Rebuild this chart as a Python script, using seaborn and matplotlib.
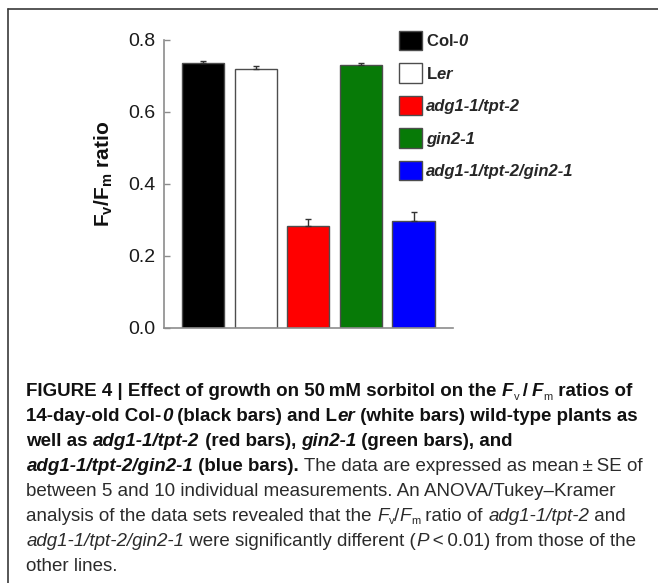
import matplotlib
matplotlib.use("Agg")
import matplotlib.pyplot as plt
from matplotlib.patches import Patch
from matplotlib.lines import Line2D
from matplotlib.font_manager import FontProperties, fontManager
import numpy as np
import pandas as pd
import seaborn as sns

# ---- data -------------------------------------------------------------
genotypes = ["Col-0", "Ler", "adg1-1/tpt-2", "gin2-1", "adg1-1/tpt-2/gin2-1"]
fv_fm_ratio = [0.737, 0.720, 0.283, 0.730, 0.297]
fv_fm_se = [0.006, 0.007, 0.019, 0.006, 0.024]
bar_colors = ["#000000", "#ffffff", "#ff0000", "#077a07", "#0000ff"]
legend_labels = [r"Col-$\mathsf{0}$", r"L$\mathsf{er}$",
                 "adg1-1/tpt-2", "gin2-1", "adg1-1/tpt-2/gin2-1"]
y_ticks = [0.0, 0.2, 0.4, 0.6, 0.8]

# ---- style ------------------------------------------------------------
sns.set_style("ticks")
plt.rcParams["font.family"] = ["Liberation Sans", "DejaVu Sans"]
plt.rcParams["mathtext.fontset"] = "custom"
plt.rcParams["mathtext.bf"] = "Liberation Sans:bold"
plt.rcParams["mathtext.rm"] = "Liberation Sans:bold"
plt.rcParams["mathtext.it"] = "Liberation Sans:italic:bold"
plt.rcParams["mathtext.sf"] = "Liberation Sans:italic:bold"

W, H = 658, 583
fig = plt.figure(figsize=(W / 100, H / 100), dpi=100)
fig.patch.set_facecolor("white")

# axes box in pixel terms: x 164..453, y 40..328
ax = fig.add_axes([164 / W, 1 - 328 / H, (453 - 164) / W, (328 - 40) / H])
ax.set_facecolor("white")

df = pd.DataFrame({"genotype": genotypes, "ratio": fv_fm_ratio})
sns.barplot(data=df, x="genotype", y="ratio", hue="genotype",
            order=genotypes, hue_order=genotypes, palette=bar_colors,
            saturation=1, width=0.8, edgecolor="#4d4d4d", linewidth=1.0,
            errorbar=None, legend=False, ax=ax)

xpos = np.arange(len(genotypes))
ax.errorbar(xpos, fv_fm_ratio, yerr=[np.zeros(len(fv_fm_se)), fv_fm_se],
            fmt="none", ecolor="#333333", elinewidth=1.0, capsize=2.5,
            capthick=1.0, zorder=3)

ax.set_xlim(-0.74, 4.75)
ax.set_ylim(0, 0.8)
ax.set_yticks(y_ticks)
ax.set_yticklabels([f"{v:.1f}" for v in y_ticks])
ax.set_xticks([])
ax.set_xlabel("")
sns.despine(ax=ax)
for side in ("left", "bottom"):
    ax.spines[side].set_color("#8c8c8c")
    ax.spines[side].set_linewidth(1.2)
ax.tick_params(axis="y", direction="in", length=4.5, width=1.0,
               color="#8c8c8c", labelsize=14, pad=6, labelcolor="#1a1a1a")

ax.set_ylabel(r"$\mathbf{F_v/F_m}$ ratio", fontsize=15, fontweight="bold",
              va="center", color="#111111")
ax.yaxis.set_label_coords((104 - 164) / 289, (328 - 173.5) / 288)

handles = [Patch(facecolor=c, edgecolor="#4d4d4d", linewidth=1.0)
           for c in bar_colors]
leg = ax.legend(handles, legend_labels, loc="upper left",
                bbox_to_anchor=(399 / W, 1 - 31 / H),
                bbox_transform=fig.transFigure, frameon=False,
                prop=dict(family="Liberation Sans", weight="bold", size=12),
                handlelength=1.38, handleheight=1.42, handletextpad=0.25,
                labelspacing=0.78, borderpad=0, borderaxespad=0)
for t in leg.get_texts()[2:]:
    t.set_style("italic")

# ---- frame lines ------------------------------------------------------
fig.add_artist(Line2D([8 / W, 8 / W], [0, 1 - 9 / H], transform=fig.transFigure,
                      color="#3a3a3a", lw=1.2))
fig.add_artist(Line2D([8 / W, 1], [1 - 9 / H, 1 - 9 / H],
                      transform=fig.transFigure, color="#3a3a3a", lw=1.2))

# ---- caption ----------------------------------------------------------
names = {f.name for f in fontManager.ttflist}
if "Liberation Sans Narrow" in names:
    cap_family, cap_size = "Liberation Sans Narrow", 12.8
else:
    cap_family, cap_size = "Liberation Sans", 13.5

STYLES = {
    "b": dict(weight="bold", style="normal", scale=1.0, dy=0, color="#111111"),
    "bi": dict(weight="bold", style="italic", scale=1.0, dy=0, color="#111111"),
    "r": dict(weight="normal", style="normal", scale=1.0, dy=0, color="#2b2b2b"),
    "i": dict(weight="normal", style="italic", scale=1.0, dy=0, color="#2b2b2b"),
    "sub": dict(weight="normal", style="normal", scale=0.6, dy=3.0, color="#2b2b2b"),
}

caption_lines = [
    [("FIGURE 4 | Effect of growth on 50\u2009mM sorbitol on the ", "b"),
     ("F", "bi"), ("v", "sub"), ("\u2009/\u2009", "b"), ("F", "bi"), ("m", "sub"),
     (" ratios of", "b")],
    [("14-day-old Col-", "b"), ("0", "bi"), (" (black bars) and L", "b"),
     ("er", "bi"), (" (white bars) wild-type plants as", "b")],
    [("well as ", "b"), ("adg1-1/tpt-2", "bi"), (" (red bars), ", "b"),
     ("gin2-1", "bi"), (" (green bars), and", "b")],
    [("adg1-1/tpt-2/gin2-1", "bi"), (" (blue bars).", "b"),
     (" The data are expressed as mean\u2009\u00b1\u2009SE of", "r")],
    [("between 5 and 10 individual measurements. An ANOVA/Tukey\u2013Kramer", "r")],
    [("analysis of the data sets revealed that the ", "r"), ("F", "i"),
     ("v", "sub"), ("/", "r"), ("F", "i"), ("m", "sub"), (" ratio of ", "r"),
     ("adg1-1/tpt-2", "i"), (" and", "r")],
    [("adg1-1/tpt-2/gin2-1", "i"), (" were significantly different (", "r"),
     ("P", "i"), ("\u2009<\u20090.01) from those of the", "r")],
    [("other lines.", "r")],
]

fig.canvas.draw()
renderer = fig.canvas.get_renderer()


def run_width(s, fp):
    w_full = renderer.get_text_width_height_descent(s + "|", fp, False)[0]
    w_bar = renderer.get_text_width_height_descent("|", fp, False)[0]
    return w_full - w_bar


x_left, base0, line_gap = 26.5, 396.5, 24.9
for i, line in enumerate(caption_lines):
    x = x_left
    base = base0 + i * line_gap
    for s, key in line:
        st = STYLES[key]
        fp = FontProperties(family=cap_family, weight=st["weight"],
                            style=st["style"], size=cap_size * st["scale"])
        fig.text(x / W, 1 - (base + st["dy"]) / H, s, fontproperties=fp,
                 color=st["color"], ha="left", va="baseline")
        x += run_width(s, fp)

fig.savefig("out.png", dpi=100, facecolor="white")
